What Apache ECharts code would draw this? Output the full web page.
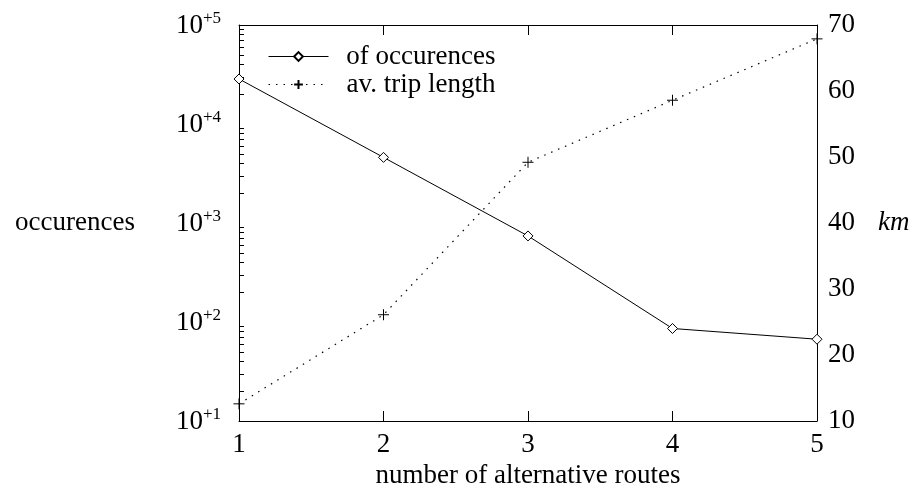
<!DOCTYPE html>
<html>
<head>
<meta charset="utf-8">
<script src="https://cdn.jsdelivr.net/npm/echarts@6/dist/echarts.min.js"></script>
<style>
  html, body { margin: 0; padding: 0; background: #fff; }
  #chart { width: 914px; height: 487px; }
</style>
</head>
<body>
<div id="chart"></div>
<script>
// alternative routes: occurrences (log, left) and trip length (km, right)
var routes = ['1', '2', '3', '4', '5'];
var occurences = [28500, 4600, 740, 86, 67];
var tripLength = [12.6, 26.1, 49.2, 58.6, 67.9];
// log minor ticks: 2..9 x 10^n
var decades = [10, 100, 1000, 10000];
var minorSteps = [2, 3, 4, 5, 6, 7, 8, 9];

(function() {
  var ink = '#000';
  var font = 'Liberation Serif';
  var fs = 27;
  var chart = echarts.init(document.getElementById('chart'), null, { renderer: 'canvas' });

  var plus = 'path://M0,5L10,5M5,0L5,10';
  var minorTicks = [];
  decades.forEach(function(d) {
    minorSteps.forEach(function(s) { minorTicks.push(d * s); });
  });

  chart.setOption({
    animation: false,
    textStyle: { fontFamily: font, color: ink },
    grid: { left: 239, right: 97, top: 25, bottom: 66, outerBoundsMode: 'none', containLabel: false },
    legend: {
      orient: 'vertical',
      left: 263, top: 38,
      itemWidth: 60, itemHeight: 11, itemGap: 1,
      lineStyle: { width: 1 },
      data: ['of occurences', 'av. trip length'],
      formatter: function(name) { return '{n|' + name + '}'; },
      textStyle: {
        color: ink, fontFamily: font,
        rich: { n: { width: 162, align: 'right', fontSize: fs, fontFamily: font, color: ink } }
      }
    },
    xAxis: [{
      type: 'category',
      data: routes,
      boundaryGap: false,
      name: 'number of alternative routes',
      nameLocation: 'middle',
      nameGap: 39,
      nameTextStyle: { fontSize: fs, color: ink, fontFamily: font },
      axisLine: { lineStyle: { color: ink, width: 1 } },
      axisTick: { inside: true, length: 10, lineStyle: { color: ink } },
      axisLabel: { fontSize: fs, color: ink, fontFamily: font, margin: 10 },
      splitLine: { show: false }
    }, {
      type: 'category',
      data: routes,
      boundaryGap: false,
      position: 'top',
      axisLine: { lineStyle: { color: ink, width: 1 } },
      axisTick: { inside: true, length: 10, lineStyle: { color: ink } },
      axisLabel: { show: false },
      splitLine: { show: false }
    }],
    yAxis: [{
      type: 'log',
      logBase: 10,
      min: 10, max: 100000,
      name: 'occurences',
      nameLocation: 'middle',
      nameRotate: 0,
      nameGap: 104,
      nameTextStyle: { fontSize: fs, color: ink, fontFamily: font },
      axisLine: { show: true, lineStyle: { color: ink, width: 1 } },
      axisTick: { inside: true, length: 10, lineStyle: { color: ink } },
      axisLabel: {
        margin: 18,
        formatter: function(v) {
          var e = Math.round(Math.log(v) / Math.LN10);
          return '{a|10}{b|+' + e + '}';
        },
        rich: {
          a: { fontSize: fs, fontFamily: font, color: ink, verticalAlign: 'bottom' },
          b: { fontSize: 17, fontFamily: font, color: ink, verticalAlign: 'bottom', padding: [0, 0, 12, 0] }
        }
      },
      splitLine: { show: false }
    }, {
      type: 'value',
      min: 10, max: 70, interval: 10,
      position: 'right',
      name: 'km',
      nameLocation: 'middle',
      nameRotate: 0,
      nameGap: 61,
      nameTextStyle: { fontSize: fs, color: ink, fontFamily: font, fontStyle: 'italic' },
      axisLine: { show: true, lineStyle: { color: ink, width: 1 } },
      axisTick: { inside: true, length: 10, lineStyle: { color: ink } },
      axisLabel: { fontSize: fs, color: ink, fontFamily: font, margin: 11 },
      splitLine: { show: false }
    }, {
      // minor ticks of the log axis
      type: 'log',
      logBase: 10,
      min: 10, max: 100000,
      position: 'left',
      axisLine: { show: false },
      axisTick: { show: true, inside: true, length: 5, customValues: minorTicks, lineStyle: { color: ink } },
      axisLabel: { show: false },
      splitLine: { show: false }
    }],
    series: [{
      name: 'of occurences',
      type: 'line',
      yAxisIndex: 0,
      data: occurences,
      symbol: 'diamond',
      symbolSize: 10,
      showAllSymbol: true,
      lineStyle: { color: ink, width: 1 },
      itemStyle: { color: '#fff', borderColor: ink, borderWidth: 1 }
    }, {
      name: 'av. trip length',
      type: 'line',
      yAxisIndex: 1,
      data: tripLength,
      symbol: plus,
      symbolSize: 11,
      showAllSymbol: true,
      lineStyle: { color: ink, width: 1.2, type: [1.5, 6] },
      itemStyle: { color: ink, borderColor: ink, borderWidth: 1 }
    }]
  });
  window.addEventListener('resize', function() { chart.resize(); });
})();
</script>
</body>
</html>
